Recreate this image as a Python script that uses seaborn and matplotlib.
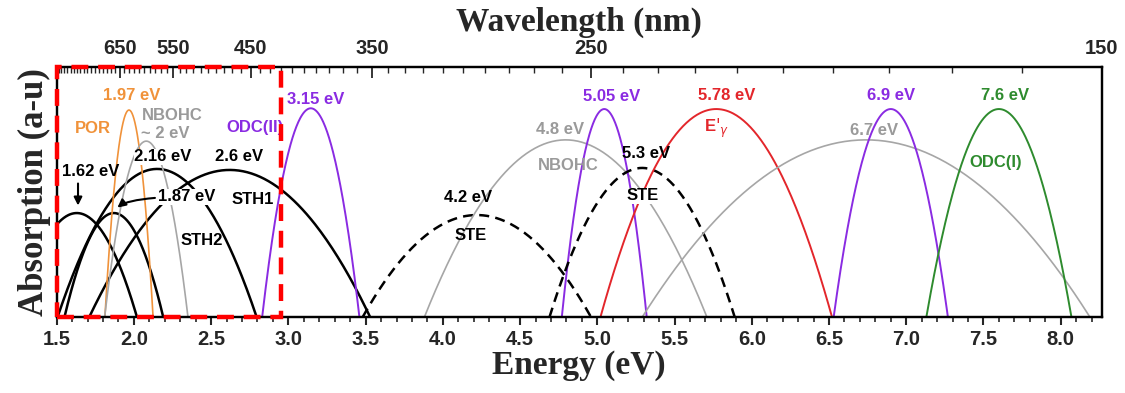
import numpy as np
import pandas as pd
import matplotlib
matplotlib.use("Agg")
import matplotlib.pyplot as plt
from matplotlib.patches import Rectangle
import seaborn as sns

# absorption bands: peak energy (eV), peak height, half-width to the baseline
band_center = [1.63, 1.87, 2.15, 2.62, 1.968, 2.08, 3.145, 4.22, 4.795, 5.045, 5.29, 5.77, 6.74, 6.90, 7.60]
band_height = [0.416, 0.416, 0.592, 0.588, 0.827, 0.703, 0.834, 0.408, 0.708, 0.831, 0.596, 0.831, 0.708, 0.831, 0.831]
band_width = [0.39, 0.32, 0.645, 0.91, 0.156, 0.27, 0.315, 0.74, 0.915, 0.275, 0.60, 0.75, 1.45, 0.37, 0.47]
band_kind = ["STH", "STH", "STH", "STH", "POR", "NBOHC", "ODC(II)", "STE", "NBOHC", "ODC(II)", "STE", "E'g", "NBOHC", "ODC(II)", "ODC(I)"]

energy_ticks = [1.5, 2.0, 2.5, 3.0, 3.5, 4.0, 4.5, 5.0, 5.5, 6.0, 6.5, 7.0, 7.5, 8.0]
wavelength_ticks = [650, 550, 450, 350, 250, 150]
wavelength_minor = list(range(160, 830, 10))
zoom_range = [1.5, 2.955]

HC = 1239.84

colors = {"STH": "black", "POR": "#F0923A", "NBOHC": "#A6A6A6", "ODC(II)": "#8A2BE2",
          "STE": "black", "E'g": "#E3262B", "ODC(I)": "#2E8B2E"}
widths_lw = {"STH": 1.8, "POR": 1.2, "NBOHC": 1.2, "ODC(II)": 1.4, "STE": 1.8, "E'g": 1.4, "ODC(I)": 1.4}

# build the band shapes (inverted parabolas down to the baseline)
rows = []
for i, (c, h, w, k) in enumerate(zip(band_center, band_height, band_width, band_kind)):
    e = np.linspace(c - w, c + w, 200)
    a = h * (1 - ((e - c) / w) ** 2)
    rows.append(pd.DataFrame({"energy": e, "absorption": a, "band": i, "kind": k}))
df = pd.concat(rows, ignore_index=True)

sns.set_theme(style="white")
plt.rcParams["font.family"] = ["Liberation Sans", "DejaVu Sans"]

fig = plt.figure(figsize=(11.25, 3.93), dpi=100)
ax = fig.add_axes([0.0504, 0.1926, 0.9289, 0.6377])

for i, sub in df.groupby("band"):
    k = sub["kind"].iloc[0]
    ls = (0, (4, 2.5)) if k == "STE" else "-"
    sns.lineplot(data=sub, x="energy", y="absorption", ax=ax, color=colors[k],
                 linewidth=widths_lw[k], linestyle=ls, sort=False, estimator=None)

serif = dict(family="Liberation Serif", fontweight="bold", fontsize=24)
ax.set_xlim(1.5, HC / 150)
ax.set_ylim(0, 1)
ax.set_yticks([])
ax.set_ylabel("Absorption (a-u)", labelpad=4, fontsize=25, family="Liberation Serif", fontweight="bold")
ax.set_xlabel("Energy (eV)", labelpad=1, **serif)
ax.set_xticks(energy_ticks)
ax.set_xticklabels([f"{v:.1f}" for v in energy_ticks], fontweight="bold")
ax.set_xticks(np.arange(1.5, 8.25, 0.1), minor=True)
ax.tick_params(axis="x", which="major", direction="out", length=6, width=1.5, labelsize=14.5, pad=3, bottom=True)
ax.tick_params(axis="x", which="minor", direction="out", length=3.5, width=1.2, bottom=True)
for s in ax.spines.values():
    s.set_linewidth(1.6)
    s.set_color("black")

ax2 = ax.twiny()
ax2.set_xlim(ax.get_xlim())
ax2.set_xticks([HC / l for l in wavelength_ticks])
ax2.set_xticklabels([str(l) for l in wavelength_ticks], fontweight="bold")
ax2.set_xticks([HC / l for l in wavelength_minor], minor=True)
ax2.tick_params(axis="x", which="major", direction="in", length=8, width=1.3, labelsize=14.5, pad=6, top=True)
ax2.tick_params(axis="x", which="minor", direction="in", length=4, width=1.0, top=True)
ax2.set_xlabel("Wavelength (nm)", labelpad=6, **serif)
for s in ax2.spines.values():
    s.set_linewidth(1.6)
    s.set_color("black")

# highlighted visible-range box (on the top axes so it sits over the spines)
ax2.add_patch(Rectangle((zoom_range[0], 0), zoom_range[1] - zoom_range[0], 1.0, fill=False,
                        edgecolor="red", lw=3.2, ls=(0, (3.8, 2.2)), clip_on=False, zorder=6))

white = dict(facecolor="white", edgecolor="none", pad=0.5)
labels = [
    ("1.97 eV", 1.987, 0.887, colors["POR"], None),
    ("POR", 1.735, 0.755, colors["POR"], None),
    ("NBOHC", 2.25, 0.807, "#9A9A9A", None),
    ("~ 2 eV", 2.20, 0.735, "#9A9A9A", None),
    ("ODC(II)", 2.784, 0.759, colors["ODC(II)"], None),
    ("3.15 eV", 3.177, 0.871, colors["ODC(II)"], None),
    ("2.16 eV", 2.188, 0.640, "black", white),
    ("2.6 eV", 2.679, 0.640, "black", None),
    ("1.62 eV", 1.722, 0.581, "black", None),
    ("STH1", 2.770, 0.472, "black", None),
    ("STH2", 2.440, 0.308, "black", None),
    ("4.2 eV", 4.16, 0.477, "black", None),
    ("STE", 4.18, 0.326, "black", None),
    ("4.8 eV", 4.756, 0.751, "#9A9A9A", None),
    ("NBOHC", 4.81, 0.604, "#9A9A9A", None),
    ("5.05 eV", 5.09, 0.880, colors["ODC(II)"], None),
    ("5.3 eV", 5.318, 0.652, "black", None),
    ("STE", 5.293, 0.485, "black", white),
    ("5.78 eV", 5.835, 0.887, colors["E'g"], None),
    ("E$'_{\\gamma}$", 5.77, 0.755, colors["E'g"], None),
    ("6.9 eV", 6.90, 0.887, colors["ODC(II)"], None),
    ("7.6 eV", 7.64, 0.887, colors["ODC(I)"], None),
    ("6.7 eV", 6.793, 0.747, "#9A9A9A", None),
    ("ODC(I)", 7.58, 0.616, colors["ODC(I)"], None),
]
for t, x, y, c, bb in labels:
    ax.text(x, y, t, color=c, fontsize=12, fontweight="bold", ha="center", va="center",
            bbox=bb, zorder=4)

ax.annotate("", xy=(1.638, 0.435), xytext=(1.638, 0.545),
            arrowprops=dict(arrowstyle="-|>", color="black", lw=1.5, mutation_scale=12))
ax.annotate("1.87 eV", xy=(1.88, 0.43), xytext=(2.344, 0.481), ha="center", va="center",
            fontsize=12, fontweight="bold", color="black", zorder=4,
            bbox=dict(facecolor="white", edgecolor="none", pad=0.5),
            arrowprops=dict(arrowstyle="-|>", color="black", lw=1.5, mutation_scale=12,
                            connectionstyle="angle3,angleA=180,angleB=50"))

fig.savefig("out.png", dpi=100)
